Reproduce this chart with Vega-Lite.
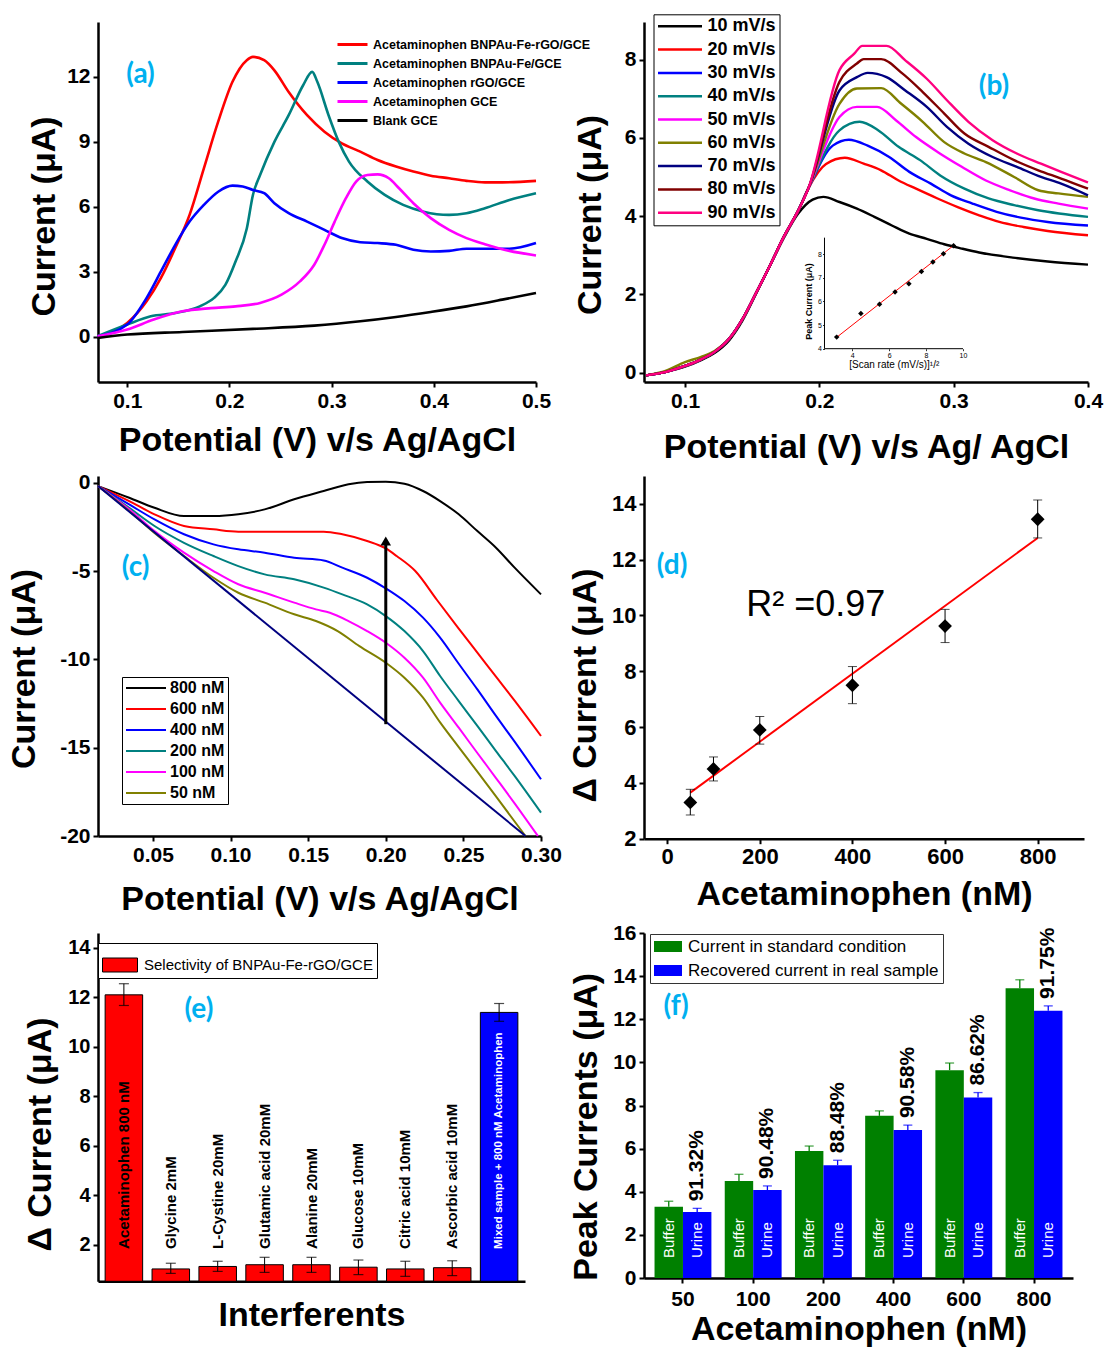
{
"$schema":"https://vega.github.io/schema/vega-lite/v6.json",
"background":"white",
"padding":{"left":7,"top":13,"right":2,"bottom":2},
"columns":2,
"align":"none",
"bounds":"flush",
"spacing":{"row":94,"column":103},
"resolve":{"scale":{"color":"independent","fill":"independent"},"legend":{"color":"independent","fill":"independent"}},
"config":{
 "font":"Liberation Sans",
 "view":{"stroke":null},
 "axis":{"labelFont":"Liberation Sans","labelFontWeight":"bold","labelFontSize":21,"labelColor":"#000","titleFont":"Liberation Sans","titleFontWeight":"bold","titleFontSize":34,"titleColor":"#000","domainColor":"#000","domainWidth":2.5,"tickColor":"#000","tickWidth":2,"tickSize":5,"grid":false,"labelFlush":false,"labelOverlap":false,"labelPadding":3},
 "legend":{"labelFont":"Liberation Sans","labelColor":"#000","titleFont":"Liberation Sans"},
 "text":{"font":"Liberation Sans"}
},
"datasets":{
 "a":[
  {"s":"Acetaminophen BNPAu-Fe-rGO/GCE","x":0.071,"y":0.03},{"s":"Acetaminophen BNPAu-Fe-rGO/GCE","x":0.1,"y":0.64},{"s":"Acetaminophen BNPAu-Fe-rGO/GCE","x":0.119,"y":1.64},{"s":"Acetaminophen BNPAu-Fe-rGO/GCE","x":0.133,"y":2.72},{"s":"Acetaminophen BNPAu-Fe-rGO/GCE","x":0.147,"y":4.1},{"s":"Acetaminophen BNPAu-Fe-rGO/GCE","x":0.161,"y":5.63},{"s":"Acetaminophen BNPAu-Fe-rGO/GCE","x":0.175,"y":7.78},{"s":"Acetaminophen BNPAu-Fe-rGO/GCE","x":0.189,"y":9.93},{"s":"Acetaminophen BNPAu-Fe-rGO/GCE","x":0.203,"y":11.77},{"s":"Acetaminophen BNPAu-Fe-rGO/GCE","x":0.217,"y":12.77},{"s":"Acetaminophen BNPAu-Fe-rGO/GCE","x":0.223,"y":12.92},{"s":"Acetaminophen BNPAu-Fe-rGO/GCE","x":0.234,"y":12.77},{"s":"Acetaminophen BNPAu-Fe-rGO/GCE","x":0.244,"y":12.3},{"s":"Acetaminophen BNPAu-Fe-rGO/GCE","x":0.258,"y":11.3},{"s":"Acetaminophen BNPAu-Fe-rGO/GCE","x":0.276,"y":10.23},{"s":"Acetaminophen BNPAu-Fe-rGO/GCE","x":0.293,"y":9.47},{"s":"Acetaminophen BNPAu-Fe-rGO/GCE","x":0.31,"y":8.93},{"s":"Acetaminophen BNPAu-Fe-rGO/GCE","x":0.328,"y":8.55},{"s":"Acetaminophen BNPAu-Fe-rGO/GCE","x":0.345,"y":8.16},{"s":"Acetaminophen BNPAu-Fe-rGO/GCE","x":0.363,"y":7.86},{"s":"Acetaminophen BNPAu-Fe-rGO/GCE","x":0.38,"y":7.63},{"s":"Acetaminophen BNPAu-Fe-rGO/GCE","x":0.397,"y":7.44},{"s":"Acetaminophen BNPAu-Fe-rGO/GCE","x":0.415,"y":7.32},{"s":"Acetaminophen BNPAu-Fe-rGO/GCE","x":0.432,"y":7.2},{"s":"Acetaminophen BNPAu-Fe-rGO/GCE","x":0.45,"y":7.13},{"s":"Acetaminophen BNPAu-Fe-rGO/GCE","x":0.467,"y":7.13},{"s":"Acetaminophen BNPAu-Fe-rGO/GCE","x":0.5,"y":7.2},
  {"s":"Acetaminophen BNPAu-Fe/GCE","x":0.071,"y":0.03},{"s":"Acetaminophen BNPAu-Fe/GCE","x":0.1,"y":0.57},{"s":"Acetaminophen BNPAu-Fe/GCE","x":0.123,"y":0.95},{"s":"Acetaminophen BNPAu-Fe/GCE","x":0.147,"y":1.1},{"s":"Acetaminophen BNPAu-Fe/GCE","x":0.171,"y":1.41},{"s":"Acetaminophen BNPAu-Fe/GCE","x":0.185,"y":1.8},{"s":"Acetaminophen BNPAu-Fe/GCE","x":0.196,"y":2.4},{"s":"Acetaminophen BNPAu-Fe/GCE","x":0.206,"y":3.48},{"s":"Acetaminophen BNPAu-Fe/GCE","x":0.217,"y":5.0},{"s":"Acetaminophen BNPAu-Fe/GCE","x":0.223,"y":6.55},{"s":"Acetaminophen BNPAu-Fe/GCE","x":0.23,"y":7.47},{"s":"Acetaminophen BNPAu-Fe/GCE","x":0.244,"y":9.0},{"s":"Acetaminophen BNPAu-Fe/GCE","x":0.258,"y":10.23},{"s":"Acetaminophen BNPAu-Fe/GCE","x":0.272,"y":11.6},{"s":"Acetaminophen BNPAu-Fe/GCE","x":0.281,"y":12.23},{"s":"Acetaminophen BNPAu-Fe/GCE","x":0.286,"y":11.77},{"s":"Acetaminophen BNPAu-Fe/GCE","x":0.297,"y":10.23},{"s":"Acetaminophen BNPAu-Fe/GCE","x":0.307,"y":9.0},{"s":"Acetaminophen BNPAu-Fe/GCE","x":0.317,"y":8.09},{"s":"Acetaminophen BNPAu-Fe/GCE","x":0.335,"y":7.17},{"s":"Acetaminophen BNPAu-Fe/GCE","x":0.352,"y":6.55},{"s":"Acetaminophen BNPAu-Fe/GCE","x":0.37,"y":6.09},{"s":"Acetaminophen BNPAu-Fe/GCE","x":0.39,"y":5.78},{"s":"Acetaminophen BNPAu-Fe/GCE","x":0.415,"y":5.63},{"s":"Acetaminophen BNPAu-Fe/GCE","x":0.432,"y":5.71},{"s":"Acetaminophen BNPAu-Fe/GCE","x":0.45,"y":5.94},{"s":"Acetaminophen BNPAu-Fe/GCE","x":0.474,"y":6.32},{"s":"Acetaminophen BNPAu-Fe/GCE","x":0.5,"y":6.63},
  {"s":"Acetaminophen rGO/GCE","x":0.071,"y":0.03},{"s":"Acetaminophen rGO/GCE","x":0.1,"y":0.57},{"s":"Acetaminophen rGO/GCE","x":0.119,"y":1.8},{"s":"Acetaminophen rGO/GCE","x":0.133,"y":3.02},{"s":"Acetaminophen rGO/GCE","x":0.147,"y":4.25},{"s":"Acetaminophen rGO/GCE","x":0.161,"y":5.32},{"s":"Acetaminophen rGO/GCE","x":0.175,"y":6.09},{"s":"Acetaminophen rGO/GCE","x":0.189,"y":6.7},{"s":"Acetaminophen rGO/GCE","x":0.203,"y":6.98},{"s":"Acetaminophen rGO/GCE","x":0.213,"y":6.94},{"s":"Acetaminophen rGO/GCE","x":0.223,"y":6.78},{"s":"Acetaminophen rGO/GCE","x":0.234,"y":6.63},{"s":"Acetaminophen rGO/GCE","x":0.244,"y":6.17},{"s":"Acetaminophen rGO/GCE","x":0.258,"y":5.71},{"s":"Acetaminophen rGO/GCE","x":0.276,"y":5.32},{"s":"Acetaminophen rGO/GCE","x":0.293,"y":4.94},{"s":"Acetaminophen rGO/GCE","x":0.31,"y":4.56},{"s":"Acetaminophen rGO/GCE","x":0.328,"y":4.37},{"s":"Acetaminophen rGO/GCE","x":0.345,"y":4.33},{"s":"Acetaminophen rGO/GCE","x":0.363,"y":4.25},{"s":"Acetaminophen rGO/GCE","x":0.38,"y":4.02},{"s":"Acetaminophen rGO/GCE","x":0.397,"y":3.94},{"s":"Acetaminophen rGO/GCE","x":0.415,"y":3.97},{"s":"Acetaminophen rGO/GCE","x":0.432,"y":4.07},{"s":"Acetaminophen rGO/GCE","x":0.45,"y":4.07},{"s":"Acetaminophen rGO/GCE","x":0.474,"y":4.07},{"s":"Acetaminophen rGO/GCE","x":0.5,"y":4.33},
  {"s":"Acetaminophen GCE","x":0.071,"y":0.03},{"s":"Acetaminophen GCE","x":0.1,"y":0.34},{"s":"Acetaminophen GCE","x":0.126,"y":0.8},{"s":"Acetaminophen GCE","x":0.154,"y":1.18},{"s":"Acetaminophen GCE","x":0.182,"y":1.33},{"s":"Acetaminophen GCE","x":0.206,"y":1.41},{"s":"Acetaminophen GCE","x":0.23,"y":1.57},{"s":"Acetaminophen GCE","x":0.251,"y":1.95},{"s":"Acetaminophen GCE","x":0.269,"y":2.56},{"s":"Acetaminophen GCE","x":0.283,"y":3.33},{"s":"Acetaminophen GCE","x":0.293,"y":4.25},{"s":"Acetaminophen GCE","x":0.303,"y":5.32},{"s":"Acetaminophen GCE","x":0.314,"y":6.4},{"s":"Acetaminophen GCE","x":0.324,"y":7.17},{"s":"Acetaminophen GCE","x":0.335,"y":7.47},{"s":"Acetaminophen GCE","x":0.345,"y":7.5},{"s":"Acetaminophen GCE","x":0.356,"y":7.32},{"s":"Acetaminophen GCE","x":0.366,"y":6.86},{"s":"Acetaminophen GCE","x":0.38,"y":6.17},{"s":"Acetaminophen GCE","x":0.397,"y":5.48},{"s":"Acetaminophen GCE","x":0.415,"y":4.94},{"s":"Acetaminophen GCE","x":0.432,"y":4.56},{"s":"Acetaminophen GCE","x":0.45,"y":4.28},{"s":"Acetaminophen GCE","x":0.474,"y":3.97},{"s":"Acetaminophen GCE","x":0.5,"y":3.76},
  {"s":"Blank GCE","x":0.071,"y":-0.05},{"s":"Blank GCE","x":0.1,"y":0.11},{"s":"Blank GCE","x":0.154,"y":0.23},{"s":"Blank GCE","x":0.223,"y":0.37},{"s":"Blank GCE","x":0.283,"y":0.52},{"s":"Blank GCE","x":0.328,"y":0.72},{"s":"Blank GCE","x":0.363,"y":0.92},{"s":"Blank GCE","x":0.397,"y":1.15},{"s":"Blank GCE","x":0.432,"y":1.41},{"s":"Blank GCE","x":0.467,"y":1.72},{"s":"Blank GCE","x":0.5,"y":2.03}
 ],
 "b":[
  {"s":"10 mV/s","x":0.071,"y":-0.07},{"s":"10 mV/s","x":0.086,"y":0.02},{"s":"10 mV/s","x":0.1,"y":0.15},{"s":"10 mV/s","x":0.112,"y":0.32},{"s":"10 mV/s","x":0.122,"y":0.5},{"s":"10 mV/s","x":0.133,"y":0.83},{"s":"10 mV/s","x":0.143,"y":1.34},{"s":"10 mV/s","x":0.153,"y":2.02},{"s":"10 mV/s","x":0.164,"y":2.79},{"s":"10 mV/s","x":0.174,"y":3.47},{"s":"10 mV/s","x":0.184,"y":4.05},{"s":"10 mV/s","x":0.195,"y":4.42},{"s":"10 mV/s","x":0.203,"y":4.49},{"s":"10 mV/s","x":0.215,"y":4.36},{"s":"10 mV/s","x":0.228,"y":4.19},{"s":"10 mV/s","x":0.241,"y":3.98},{"s":"10 mV/s","x":0.254,"y":3.76},{"s":"10 mV/s","x":0.267,"y":3.55},{"s":"10 mV/s","x":0.28,"y":3.42},{"s":"10 mV/s","x":0.293,"y":3.28},{"s":"10 mV/s","x":0.306,"y":3.17},{"s":"10 mV/s","x":0.319,"y":3.07},{"s":"10 mV/s","x":0.344,"y":2.94},{"s":"10 mV/s","x":0.37,"y":2.84},{"s":"10 mV/s","x":0.4,"y":2.76},
  {"s":"20 mV/s","x":0.071,"y":-0.07},{"s":"20 mV/s","x":0.086,"y":0.02},{"s":"20 mV/s","x":0.1,"y":0.17},{"s":"20 mV/s","x":0.112,"y":0.34},{"s":"20 mV/s","x":0.122,"y":0.53},{"s":"20 mV/s","x":0.133,"y":0.87},{"s":"20 mV/s","x":0.143,"y":1.38},{"s":"20 mV/s","x":0.153,"y":2.04},{"s":"20 mV/s","x":0.164,"y":2.79},{"s":"20 mV/s","x":0.174,"y":3.5},{"s":"20 mV/s","x":0.184,"y":4.12},{"s":"20 mV/s","x":0.192,"y":4.72},{"s":"20 mV/s","x":0.205,"y":5.33},{"s":"20 mV/s","x":0.219,"y":5.49},{"s":"20 mV/s","x":0.233,"y":5.34},{"s":"20 mV/s","x":0.246,"y":5.17},{"s":"20 mV/s","x":0.259,"y":4.91},{"s":"20 mV/s","x":0.272,"y":4.7},{"s":"20 mV/s","x":0.288,"y":4.45},{"s":"20 mV/s","x":0.303,"y":4.23},{"s":"20 mV/s","x":0.319,"y":4.02},{"s":"20 mV/s","x":0.334,"y":3.85},{"s":"20 mV/s","x":0.352,"y":3.72},{"s":"20 mV/s","x":0.37,"y":3.62},{"s":"20 mV/s","x":0.4,"y":3.51},
  {"s":"30 mV/s","x":0.071,"y":-0.07},{"s":"30 mV/s","x":0.086,"y":0.02},{"s":"30 mV/s","x":0.1,"y":0.17},{"s":"30 mV/s","x":0.112,"y":0.34},{"s":"30 mV/s","x":0.122,"y":0.53},{"s":"30 mV/s","x":0.133,"y":0.87},{"s":"30 mV/s","x":0.143,"y":1.38},{"s":"30 mV/s","x":0.153,"y":2.04},{"s":"30 mV/s","x":0.164,"y":2.79},{"s":"30 mV/s","x":0.174,"y":3.5},{"s":"30 mV/s","x":0.184,"y":4.12},{"s":"30 mV/s","x":0.192,"y":4.72},{"s":"30 mV/s","x":0.21,"y":5.8},{"s":"30 mV/s","x":0.222,"y":5.95},{"s":"30 mV/s","x":0.236,"y":5.8},{"s":"30 mV/s","x":0.252,"y":5.51},{"s":"30 mV/s","x":0.267,"y":5.13},{"s":"30 mV/s","x":0.283,"y":4.83},{"s":"30 mV/s","x":0.298,"y":4.53},{"s":"30 mV/s","x":0.314,"y":4.32},{"s":"30 mV/s","x":0.332,"y":4.11},{"s":"30 mV/s","x":0.35,"y":3.96},{"s":"30 mV/s","x":0.37,"y":3.85},{"s":"30 mV/s","x":0.4,"y":3.76},
  {"s":"40 mV/s","x":0.071,"y":-0.07},{"s":"40 mV/s","x":0.086,"y":0.02},{"s":"40 mV/s","x":0.1,"y":0.17},{"s":"40 mV/s","x":0.112,"y":0.34},{"s":"40 mV/s","x":0.122,"y":0.53},{"s":"40 mV/s","x":0.133,"y":0.87},{"s":"40 mV/s","x":0.143,"y":1.38},{"s":"40 mV/s","x":0.153,"y":2.04},{"s":"40 mV/s","x":0.164,"y":2.79},{"s":"40 mV/s","x":0.174,"y":3.5},{"s":"40 mV/s","x":0.184,"y":4.12},{"s":"40 mV/s","x":0.192,"y":4.72},{"s":"40 mV/s","x":0.215,"y":6.19},{"s":"40 mV/s","x":0.23,"y":6.41},{"s":"40 mV/s","x":0.244,"y":6.19},{"s":"40 mV/s","x":0.259,"y":5.77},{"s":"40 mV/s","x":0.275,"y":5.43},{"s":"40 mV/s","x":0.29,"y":5.04},{"s":"40 mV/s","x":0.308,"y":4.7},{"s":"40 mV/s","x":0.326,"y":4.45},{"s":"40 mV/s","x":0.345,"y":4.28},{"s":"40 mV/s","x":0.363,"y":4.15},{"s":"40 mV/s","x":0.4,"y":3.98},
  {"s":"50 mV/s","x":0.071,"y":-0.07},{"s":"50 mV/s","x":0.086,"y":0.02},{"s":"50 mV/s","x":0.1,"y":0.17},{"s":"50 mV/s","x":0.112,"y":0.34},{"s":"50 mV/s","x":0.122,"y":0.53},{"s":"50 mV/s","x":0.133,"y":0.87},{"s":"50 mV/s","x":0.143,"y":1.38},{"s":"50 mV/s","x":0.153,"y":2.04},{"s":"50 mV/s","x":0.164,"y":2.79},{"s":"50 mV/s","x":0.174,"y":3.5},{"s":"50 mV/s","x":0.184,"y":4.12},{"s":"50 mV/s","x":0.192,"y":4.72},{"s":"50 mV/s","x":0.215,"y":6.53},{"s":"50 mV/s","x":0.228,"y":6.79},{"s":"50 mV/s","x":0.243,"y":6.79},{"s":"50 mV/s","x":0.257,"y":6.45},{"s":"50 mV/s","x":0.272,"y":6.02},{"s":"50 mV/s","x":0.288,"y":5.64},{"s":"50 mV/s","x":0.306,"y":5.26},{"s":"50 mV/s","x":0.324,"y":4.91},{"s":"50 mV/s","x":0.342,"y":4.66},{"s":"50 mV/s","x":0.36,"y":4.45},{"s":"50 mV/s","x":0.378,"y":4.32},{"s":"50 mV/s","x":0.4,"y":4.19},
  {"s":"60 mV/s","x":0.071,"y":-0.07},{"s":"60 mV/s","x":0.086,"y":0.05},{"s":"60 mV/s","x":0.1,"y":0.27},{"s":"60 mV/s","x":0.112,"y":0.4},{"s":"60 mV/s","x":0.122,"y":0.55},{"s":"60 mV/s","x":0.133,"y":0.87},{"s":"60 mV/s","x":0.143,"y":1.38},{"s":"60 mV/s","x":0.153,"y":2.04},{"s":"60 mV/s","x":0.164,"y":2.79},{"s":"60 mV/s","x":0.174,"y":3.5},{"s":"60 mV/s","x":0.184,"y":4.12},{"s":"60 mV/s","x":0.192,"y":4.72},{"s":"60 mV/s","x":0.215,"y":6.87},{"s":"60 mV/s","x":0.228,"y":7.26},{"s":"60 mV/s","x":0.246,"y":7.27},{"s":"60 mV/s","x":0.261,"y":6.87},{"s":"60 mV/s","x":0.277,"y":6.41},{"s":"60 mV/s","x":0.293,"y":5.89},{"s":"60 mV/s","x":0.308,"y":5.6},{"s":"60 mV/s","x":0.324,"y":5.38},{"s":"60 mV/s","x":0.345,"y":5.0},{"s":"60 mV/s","x":0.363,"y":4.66},{"s":"60 mV/s","x":0.378,"y":4.58},{"s":"60 mV/s","x":0.4,"y":4.49},
  {"s":"70 mV/s","x":0.071,"y":-0.07},{"s":"70 mV/s","x":0.086,"y":0.02},{"s":"70 mV/s","x":0.1,"y":0.17},{"s":"70 mV/s","x":0.112,"y":0.34},{"s":"70 mV/s","x":0.122,"y":0.53},{"s":"70 mV/s","x":0.133,"y":0.87},{"s":"70 mV/s","x":0.143,"y":1.38},{"s":"70 mV/s","x":0.153,"y":2.04},{"s":"70 mV/s","x":0.164,"y":2.79},{"s":"70 mV/s","x":0.174,"y":3.5},{"s":"70 mV/s","x":0.184,"y":4.12},{"s":"70 mV/s","x":0.192,"y":4.72},{"s":"70 mV/s","x":0.215,"y":7.21},{"s":"70 mV/s","x":0.228,"y":7.55},{"s":"70 mV/s","x":0.236,"y":7.66},{"s":"70 mV/s","x":0.25,"y":7.55},{"s":"70 mV/s","x":0.264,"y":7.21},{"s":"70 mV/s","x":0.28,"y":6.79},{"s":"70 mV/s","x":0.295,"y":6.28},{"s":"70 mV/s","x":0.311,"y":5.85},{"s":"70 mV/s","x":0.329,"y":5.51},{"s":"70 mV/s","x":0.347,"y":5.26},{"s":"70 mV/s","x":0.365,"y":5.0},{"s":"70 mV/s","x":0.38,"y":4.83},{"s":"70 mV/s","x":0.4,"y":4.53},
  {"s":"80 mV/s","x":0.071,"y":-0.07},{"s":"80 mV/s","x":0.086,"y":0.02},{"s":"80 mV/s","x":0.1,"y":0.17},{"s":"80 mV/s","x":0.112,"y":0.34},{"s":"80 mV/s","x":0.122,"y":0.53},{"s":"80 mV/s","x":0.133,"y":0.87},{"s":"80 mV/s","x":0.143,"y":1.38},{"s":"80 mV/s","x":0.153,"y":2.04},{"s":"80 mV/s","x":0.164,"y":2.79},{"s":"80 mV/s","x":0.174,"y":3.5},{"s":"80 mV/s","x":0.184,"y":4.12},{"s":"80 mV/s","x":0.192,"y":4.72},{"s":"80 mV/s","x":0.215,"y":7.43},{"s":"80 mV/s","x":0.228,"y":7.9},{"s":"80 mV/s","x":0.233,"y":8.01},{"s":"80 mV/s","x":0.246,"y":8.01},{"s":"80 mV/s","x":0.262,"y":7.64},{"s":"80 mV/s","x":0.277,"y":7.17},{"s":"80 mV/s","x":0.293,"y":6.62},{"s":"80 mV/s","x":0.308,"y":6.11},{"s":"80 mV/s","x":0.326,"y":5.77},{"s":"80 mV/s","x":0.345,"y":5.43},{"s":"80 mV/s","x":0.363,"y":5.17},{"s":"80 mV/s","x":0.38,"y":4.96},{"s":"80 mV/s","x":0.4,"y":4.7},
  {"s":"90 mV/s","x":0.071,"y":-0.07},{"s":"90 mV/s","x":0.086,"y":0.02},{"s":"90 mV/s","x":0.1,"y":0.17},{"s":"90 mV/s","x":0.112,"y":0.34},{"s":"90 mV/s","x":0.122,"y":0.53},{"s":"90 mV/s","x":0.133,"y":0.87},{"s":"90 mV/s","x":0.143,"y":1.38},{"s":"90 mV/s","x":0.153,"y":2.04},{"s":"90 mV/s","x":0.164,"y":2.79},{"s":"90 mV/s","x":0.174,"y":3.5},{"s":"90 mV/s","x":0.184,"y":4.12},{"s":"90 mV/s","x":0.192,"y":4.72},{"s":"90 mV/s","x":0.215,"y":7.73},{"s":"90 mV/s","x":0.226,"y":8.15},{"s":"90 mV/s","x":0.232,"y":8.35},{"s":"90 mV/s","x":0.25,"y":8.35},{"s":"90 mV/s","x":0.264,"y":7.98},{"s":"90 mV/s","x":0.28,"y":7.51},{"s":"90 mV/s","x":0.295,"y":6.96},{"s":"90 mV/s","x":0.311,"y":6.41},{"s":"90 mV/s","x":0.329,"y":5.94},{"s":"90 mV/s","x":0.347,"y":5.6},{"s":"90 mV/s","x":0.365,"y":5.34},{"s":"90 mV/s","x":0.38,"y":5.13},{"s":"90 mV/s","x":0.4,"y":4.86}
 ],
 "inset":[{"ix":3.16,"iy":4.49},{"ix":4.47,"iy":5.49},{"ix":5.48,"iy":5.88},{"ix":6.32,"iy":6.4},{"ix":7.07,"iy":6.75},{"ix":7.75,"iy":7.27},{"ix":8.37,"iy":7.67},{"ix":8.94,"iy":8.02},{"ix":9.49,"iy":8.36}],
 "inAx":[{"ix":2.5,"iy":4,"ix2":10,"iy2":4},{"ix":2.5,"iy":4,"ix2":2.5,"iy2":8.7}],
 "c":[
  {"s":"800 nM","x":0.0146,"y":-0.19},{"s":"800 nM","x":0.0347,"y":-0.85},{"s":"800 nM","x":0.051,"y":-1.42},{"s":"800 nM","x":0.07,"y":-1.89},{"s":"800 nM","x":0.089,"y":-1.89},{"s":"800 nM","x":0.105,"y":-1.79},{"s":"800 nM","x":0.122,"y":-1.51},{"s":"800 nM","x":0.141,"y":-0.94},{"s":"800 nM","x":0.16,"y":-0.47},{"s":"800 nM","x":0.176,"y":-0.09},{"s":"800 nM","x":0.188,"y":0.04},{"s":"800 nM","x":0.2,"y":0.06},{"s":"800 nM","x":0.212,"y":-0.06},{"s":"800 nM","x":0.224,"y":-0.47},{"s":"800 nM","x":0.235,"y":-1.04},{"s":"800 nM","x":0.247,"y":-1.79},{"s":"800 nM","x":0.259,"y":-2.74},{"s":"800 nM","x":0.271,"y":-3.68},{"s":"800 nM","x":0.283,"y":-4.81},{"s":"800 nM","x":0.3,"y":-6.32},
  {"s":"600 nM","x":0.0146,"y":-0.19},{"s":"600 nM","x":0.0347,"y":-1.04},{"s":"600 nM","x":0.051,"y":-1.79},{"s":"600 nM","x":0.07,"y":-2.45},{"s":"600 nM","x":0.089,"y":-2.64},{"s":"600 nM","x":0.105,"y":-2.77},{"s":"600 nM","x":0.122,"y":-2.77},{"s":"600 nM","x":0.141,"y":-2.77},{"s":"600 nM","x":0.16,"y":-2.77},{"s":"600 nM","x":0.172,"y":-2.92},{"s":"600 nM","x":0.188,"y":-3.3},{"s":"600 nM","x":0.2,"y":-3.72},{"s":"600 nM","x":0.207,"y":-4.15},{"s":"600 nM","x":0.219,"y":-5.0},{"s":"600 nM","x":0.233,"y":-6.64},{"s":"600 nM","x":0.247,"y":-8.26},{"s":"600 nM","x":0.259,"y":-9.62},{"s":"600 nM","x":0.271,"y":-10.98},{"s":"600 nM","x":0.283,"y":-12.34},{"s":"600 nM","x":0.3,"y":-14.34},
  {"s":"400 nM","x":0.0146,"y":-0.19},{"s":"400 nM","x":0.0347,"y":-1.23},{"s":"400 nM","x":0.051,"y":-2.08},{"s":"400 nM","x":0.07,"y":-2.92},{"s":"400 nM","x":0.089,"y":-3.49},{"s":"400 nM","x":0.105,"y":-3.77},{"s":"400 nM","x":0.122,"y":-3.96},{"s":"400 nM","x":0.141,"y":-4.25},{"s":"400 nM","x":0.16,"y":-4.4},{"s":"400 nM","x":0.172,"y":-4.81},{"s":"400 nM","x":0.188,"y":-5.38},{"s":"400 nM","x":0.2,"y":-5.98},{"s":"400 nM","x":0.212,"y":-6.7},{"s":"400 nM","x":0.224,"y":-7.64},{"s":"400 nM","x":0.235,"y":-8.77},{"s":"400 nM","x":0.247,"y":-10.25},{"s":"400 nM","x":0.259,"y":-11.7},{"s":"400 nM","x":0.271,"y":-13.2},{"s":"400 nM","x":0.283,"y":-14.66},{"s":"400 nM","x":0.3,"y":-16.79},
  {"s":"200 nM","x":0.0146,"y":-0.19},{"s":"200 nM","x":0.0347,"y":-1.42},{"s":"200 nM","x":0.051,"y":-2.45},{"s":"200 nM","x":0.07,"y":-3.4},{"s":"200 nM","x":0.089,"y":-4.15},{"s":"200 nM","x":0.105,"y":-4.72},{"s":"200 nM","x":0.122,"y":-5.19},{"s":"200 nM","x":0.141,"y":-5.47},{"s":"200 nM","x":0.16,"y":-5.94},{"s":"200 nM","x":0.172,"y":-6.32},{"s":"200 nM","x":0.188,"y":-6.89},{"s":"200 nM","x":0.2,"y":-7.55},{"s":"200 nM","x":0.212,"y":-8.4},{"s":"200 nM","x":0.224,"y":-9.53},{"s":"200 nM","x":0.235,"y":-10.94},{"s":"200 nM","x":0.247,"y":-12.36},{"s":"200 nM","x":0.259,"y":-13.77},{"s":"200 nM","x":0.271,"y":-15.19},{"s":"200 nM","x":0.283,"y":-16.6},{"s":"200 nM","x":0.3,"y":-18.68},
  {"s":"100 nM","x":0.0146,"y":-0.19},{"s":"100 nM","x":0.0347,"y":-1.51},{"s":"100 nM","x":0.051,"y":-2.74},{"s":"100 nM","x":0.07,"y":-3.96},{"s":"100 nM","x":0.089,"y":-5.0},{"s":"100 nM","x":0.105,"y":-5.75},{"s":"100 nM","x":0.122,"y":-6.23},{"s":"100 nM","x":0.141,"y":-6.79},{"s":"100 nM","x":0.155,"y":-7.17},{"s":"100 nM","x":0.164,"y":-7.36},{"s":"100 nM","x":0.176,"y":-7.83},{"s":"100 nM","x":0.188,"y":-8.4},{"s":"100 nM","x":0.2,"y":-9.06},{"s":"100 nM","x":0.212,"y":-9.91},{"s":"100 nM","x":0.224,"y":-11.04},{"s":"100 nM","x":0.235,"y":-12.45},{"s":"100 nM","x":0.247,"y":-13.87},{"s":"100 nM","x":0.259,"y":-15.3},{"s":"100 nM","x":0.271,"y":-16.72},{"s":"100 nM","x":0.283,"y":-18.15},{"s":"100 nM","x":0.298,"y":-20.0},
  {"s":"50 nM","x":0.0146,"y":-0.19},{"s":"50 nM","x":0.0347,"y":-1.6},{"s":"50 nM","x":0.051,"y":-2.85},{"s":"50 nM","x":0.07,"y":-4.15},{"s":"50 nM","x":0.089,"y":-5.38},{"s":"50 nM","x":0.105,"y":-6.23},{"s":"50 nM","x":0.122,"y":-6.79},{"s":"50 nM","x":0.141,"y":-7.45},{"s":"50 nM","x":0.155,"y":-7.83},{"s":"50 nM","x":0.169,"y":-8.4},{"s":"50 nM","x":0.183,"y":-9.25},{"s":"50 nM","x":0.2,"y":-10.19},{"s":"50 nM","x":0.212,"y":-11.04},{"s":"50 nM","x":0.224,"y":-12.17},{"s":"50 nM","x":0.235,"y":-13.57},{"s":"50 nM","x":0.247,"y":-14.97},{"s":"50 nM","x":0.259,"y":-16.36},{"s":"50 nM","x":0.271,"y":-17.76},{"s":"50 nM","x":0.29,"y":-20.0},
  {"s":"base","x":0.0146,"y":-0.19},{"s":"base","x":0.29,"y":-20.0}
 ],
 "d":[{"conc":50,"v":3.3,"lo":2.85,"hi":3.77},{"conc":100,"v":4.5,"lo":4.07,"hi":4.93},{"conc":200,"v":5.9,"lo":5.39,"hi":6.38},{"conc":400,"v":7.5,"lo":6.84,"hi":8.17},{"conc":600,"v":9.62,"lo":9.03,"hi":10.22},{"conc":800,"v":13.45,"lo":12.78,"hi":14.14}],
 "e":[
  {"name":"Acetaminophen 800 nM","v":12.1,"lo":11.67,"hi":12.55,"grp":"Selectivity of BNPAu-Fe-rGO/GCE"},
  {"name":"Glycine 2mM","v":1.02,"lo":0.84,"hi":1.25,"grp":"Selectivity of BNPAu-Fe-rGO/GCE"},
  {"name":"L-Cystine 20mM","v":1.12,"lo":0.92,"hi":1.33,"grp":"Selectivity of BNPAu-Fe-rGO/GCE"},
  {"name":"Glutamic acid 20mM","v":1.19,"lo":0.88,"hi":1.49,"grp":"Selectivity of BNPAu-Fe-rGO/GCE"},
  {"name":"Alanine 20mM","v":1.19,"lo":0.88,"hi":1.49,"grp":"Selectivity of BNPAu-Fe-rGO/GCE"},
  {"name":"Glucose 10mM","v":1.09,"lo":0.79,"hi":1.38,"grp":"Selectivity of BNPAu-Fe-rGO/GCE"},
  {"name":"Citric acid 10mM","v":1.02,"lo":0.72,"hi":1.33,"grp":"Selectivity of BNPAu-Fe-rGO/GCE"},
  {"name":"Ascorbic acid 10mM","v":1.07,"lo":0.75,"hi":1.35,"grp":"Selectivity of BNPAu-Fe-rGO/GCE"},
  {"name":"Mixed sample + 800 nM Acetaminophen","v":11.39,"lo":11.03,"hi":11.75,"grp":"Mixed"}
 ],
 "f":[
  {"conc":"50","sample":"Buffer","series":"Current in standard condition","v":3.3,"hi":3.56},
  {"conc":"50","sample":"Urine","series":"Recovered current in real sample","v":3.06,"hi":3.23,"pct":"91.32%"},
  {"conc":"100","sample":"Buffer","series":"Current in standard condition","v":4.5,"hi":4.81},
  {"conc":"100","sample":"Urine","series":"Recovered current in real sample","v":4.08,"hi":4.27,"pct":"90.48%"},
  {"conc":"200","sample":"Buffer","series":"Current in standard condition","v":5.89,"hi":6.12},
  {"conc":"200","sample":"Urine","series":"Recovered current in real sample","v":5.23,"hi":5.46,"pct":"88.48%"},
  {"conc":"400","sample":"Buffer","series":"Current in standard condition","v":7.52,"hi":7.75},
  {"conc":"400","sample":"Urine","series":"Recovered current in real sample","v":6.86,"hi":7.09,"pct":"90.58%"},
  {"conc":"600","sample":"Buffer","series":"Current in standard condition","v":9.64,"hi":9.97},
  {"conc":"600","sample":"Urine","series":"Recovered current in real sample","v":8.37,"hi":8.6,"pct":"86.62%"},
  {"conc":"800","sample":"Buffer","series":"Current in standard condition","v":13.44,"hi":13.83},
  {"conc":"800","sample":"Urine","series":"Recovered current in real sample","v":12.39,"hi":12.62,"pct":"91.75%"}
 ]
},
"concat":[
 {
  "width":438,"height":360,
  "layer":[
   {"data":{"name":"a"},
    "mark":{"type":"line","strokeWidth":2.6,"interpolate":"monotone"},
    "encoding":{
     "x":{"field":"x","type":"quantitative","scale":{"domain":[0.0714,0.5],"nice":false,"zero":false},"axis":{"values":[0.1,0.2,0.3,0.4,0.5],"format":".1f","title":"Potential (V) v/s Ag/AgCl","titleY":68,"titleBaseline":"alphabetic"}},
     "y":{"field":"y","type":"quantitative","scale":{"domain":[-2.08,14.53],"nice":false,"zero":false},"axis":{"values":[0,3,6,9,12],"title":"Current (μA)","titleX":-43.6,"titleY":194,"titleAngle":-90,"titleAlign":"center","titleBaseline":"alphabetic"}},
     "color":{"field":"s","type":"nominal","scale":{"domain":["Acetaminophen BNPAu-Fe-rGO/GCE","Acetaminophen BNPAu-Fe/GCE","Acetaminophen rGO/GCE","Acetaminophen GCE","Blank GCE"],"range":["#FF0000","#008080","#0000FF","#FF00FF","#000000"]},
      "legend":{"orient":"none","legendX":238,"legendY":16,"title":null,"symbolType":"stroke","symbolSize":900,"symbolStrokeWidth":3,"labelFontSize":12.5,"labelFontWeight":"bold","clipHeight":13,"rowPadding":6,"labelOffset":4,"labelLimit":400,"padding":0}}
    }},
   {"data":{"values":[{"x":0.113,"y":12.08,"t":"(a)"}]},
    "mark":{"type":"text","font":"Lato","fontWeight":"bold","fontSize":28,"color":"#00B0F0"},
    "encoding":{"x":{"field":"x","type":"quantitative"},"y":{"field":"y","type":"quantitative"},"text":{"field":"t"}}}
  ]
 },
 {
  "width":444,"height":360,
  "layer":[
   {"layer":[
    {"data":{"name":"b"},
     "mark":{"type":"line","strokeWidth":2.4,"interpolate":"monotone"},
     "encoding":{
      "x":{"field":"x","type":"quantitative","scale":{"domain":[0.0695,0.4],"nice":false,"zero":false},"axis":{"orient":"bottom","values":[0.1,0.2,0.3,0.4],"format":".1f","title":"Potential (V) v/s Ag/ AgCl","titleY":75,"titleBaseline":"alphabetic"}},
      "y":{"field":"y","type":"quantitative","scale":{"domain":[-0.24,8.96],"nice":false,"zero":false},"axis":{"orient":"left","values":[0,2,4,6,8],"title":"Current (μA)","titleX":-43.5,"titleY":192.5,"titleAngle":-90,"titleAlign":"center","titleBaseline":"alphabetic"}},
      "color":{"field":"s","type":"nominal","scale":{"domain":["10 mV/s","20 mV/s","30 mV/s","40 mV/s","50 mV/s","60 mV/s","70 mV/s","80 mV/s","90 mV/s"],"range":["#000000","#FF0000","#0000FF","#008080","#FF00FF","#808000","#000080","#800000","#FF0080"]},
       "legend":{"orient":"none","legendX":9.5,"legendY":-7.7,"title":null,"symbolType":"stroke","symbolSize":1936,"symbolStrokeWidth":2.5,"labelFontSize":18,"labelFontWeight":"bold","clipHeight":18,"rowPadding":5.3,"labelOffset":4,"padding":3,"strokeColor":"#000","fillColor":"#fff","labelLimit":300}}
     }},
    {"data":{"values":[{"x":0.33,"y":7.3,"t":"(b)"}]},
     "mark":{"type":"text","font":"Lato","fontWeight":"bold","fontSize":28,"color":"#00B0F0"},
     "encoding":{"x":{"field":"x","type":"quantitative"},"y":{"field":"y","type":"quantitative"},"text":{"field":"t"}}}
   ]},
   {"layer":[
    {"data":{"name":"inAx"},
     "mark":{"type":"rule","color":"#000","strokeWidth":1},
     "encoding":{
      "x":{"field":"ix","type":"quantitative","scale":{"domain":[-7.273,16.768],"nice":false,"zero":false},"axis":{"orient":"bottom","offset":-33.3,"values":[4,6,8,10],"domain":false,"tickSize":2,"tickWidth":0.8,"labelFontSize":7,"labelFontWeight":"normal","labelPadding":1,"title":"[Scan rate (mV/s)]¹/²","titleFontSize":10,"titleFontWeight":"normal","titleX":249.75,"titleY":19,"titleBaseline":"alphabetic","titleAlign":"center"}},
      "x2":{"field":"ix2"},
      "y":{"field":"iy","type":"quantitative","scale":{"domain":[2.59,17.83],"nice":false,"zero":false},"axis":{"orient":"left","offset":-180.5,"values":[4,5,6,7,8],"domain":false,"tickSize":2,"tickWidth":0.8,"labelFontSize":7,"labelFontWeight":"normal","labelPadding":1,"title":"Peak Current (μA)","titleFontSize":9,"titleX":-12.8,"titleY":279,"titleAngle":-90,"titleAlign":"center","titleBaseline":"alphabetic"}},
      "y2":{"field":"iy2"}
     }},
    {"data":{"values":[{"ix":3.16,"iy":4.48},{"ix":9.49,"iy":8.37}]},
     "mark":{"type":"line","color":"#FF0000","strokeWidth":1},
     "encoding":{"x":{"field":"ix","type":"quantitative"},"y":{"field":"iy","type":"quantitative"}}},
    {"data":{"name":"inset"},
     "mark":{"type":"point","shape":"diamond","filled":true,"color":"#000","size":30,"opacity":1},
     "encoding":{"x":{"field":"ix","type":"quantitative"},"y":{"field":"iy","type":"quantitative"}}}
   ]}
  ],
  "resolve":{"scale":{"x":"independent","y":"independent"},"axis":{"x":"independent","y":"independent"}}
 },
 {
  "width":443,"height":360,
  "layer":[
   {"data":{"name":"c"},
    "mark":{"type":"line","strokeWidth":2,"interpolate":"monotone"},
    "encoding":{
     "x":{"field":"x","type":"quantitative","scale":{"domain":[0.0146,0.3],"nice":false,"zero":false},"axis":{"values":[0.05,0.1,0.15,0.2,0.25,0.3],"format":".2f","title":"Potential (V) v/s Ag/AgCl","titleY":73,"titleBaseline":"alphabetic"}},
     "y":{"field":"y","type":"quantitative","scale":{"domain":[-20,0.38],"nice":false,"zero":false},"axis":{"values":[0,-5,-10,-15,-20],"labelExpr":"''+datum.value","title":"Current (μA)","titleX":-63.3,"titleY":192.5,"titleAngle":-90,"titleAlign":"center","titleBaseline":"alphabetic"}},
     "color":{"field":"s","type":"nominal","scale":{"domain":["800 nM","600 nM","400 nM","200 nM","100 nM","50 nM","base"],"range":["#000000","#FF0000","#0000FF","#008080","#FF00FF","#808000","#000080"]},
      "legend":{"values":["800 nM","600 nM","400 nM","200 nM","100 nM","50 nM"],"orient":"none","legendX":24,"legendY":201,"title":null,"symbolType":"stroke","symbolSize":1600,"symbolStrokeWidth":2,"labelFontSize":16,"labelFontWeight":"bold","clipHeight":16,"rowPadding":5,"labelOffset":3,"padding":3,"strokeColor":"#000","fillColor":"#fff"}}
    }},
   {"data":{"values":[{"x":0.2,"y":-13.67,"y2":-3.5}]},
    "mark":{"type":"rule","strokeWidth":3,"color":"#000"},
    "encoding":{"x":{"field":"x","type":"quantitative"},"y":{"field":"y","type":"quantitative"},"y2":{"field":"y2"}}},
   {"data":{"values":[{"x":0.2,"y":-3.3}]},
    "mark":{"type":"point","shape":"triangle-up","filled":true,"color":"#000","size":110,"opacity":1},
    "encoding":{"x":{"field":"x","type":"quantitative"},"y":{"field":"y","type":"quantitative"}}},
   {"data":{"values":[{"x":0.0388,"y":-4.81,"t":"(c)"}]},
    "mark":{"type":"text","font":"Lato","fontWeight":"bold","fontSize":28,"color":"#00B0F0"},
    "encoding":{"x":{"field":"x","type":"quantitative"},"y":{"field":"y","type":"quantitative"},"text":{"field":"t"}}}
  ]
 },
 {
  "width":440,"height":362.7,
  "layer":[
   {"data":{"values":[{"fx":50,"fy":3.65},{"fx":800,"fy":12.78}]},
    "mark":{"type":"line","color":"#FF0000","strokeWidth":2},
    "encoding":{
     "x":{"field":"fx","type":"quantitative","scale":{"domain":[-50,900],"nice":false,"zero":false},"axis":{"values":[0,200,400,600,800],"labelFontSize":22,"title":"Acetaminophen (nM)","titleY":65.6,"titleBaseline":"alphabetic"}},
     "y":{"field":"fy","type":"quantitative","scale":{"domain":[2,15],"nice":false,"zero":false},"axis":{"values":[2,4,6,8,10,12,14],"labelFontSize":22,"title":"Δ Current (μA)","titleX":-49,"titleY":209,"titleAngle":-90,"titleAlign":"center","titleBaseline":"alphabetic"}}
    }},
   {"data":{"name":"d"},"mark":{"type":"rule","color":"#000","strokeWidth":1},
    "encoding":{"x":{"field":"conc","type":"quantitative"},"y":{"field":"lo","type":"quantitative"},"y2":{"field":"hi"}}},
   {"data":{"name":"d"},"mark":{"type":"tick","orient":"horizontal","color":"#000","size":9,"thickness":1},
    "encoding":{"x":{"field":"conc","type":"quantitative"},"y":{"field":"lo","type":"quantitative"}}},
   {"data":{"name":"d"},"mark":{"type":"tick","orient":"horizontal","color":"#000","size":9,"thickness":1},
    "encoding":{"x":{"field":"conc","type":"quantitative"},"y":{"field":"hi","type":"quantitative"}}},
   {"data":{"name":"d"},"mark":{"type":"point","shape":"diamond","filled":true,"color":"#000","size":190,"opacity":1},
    "encoding":{"x":{"field":"conc","type":"quantitative"},"y":{"field":"v","type":"quantitative"}}},
   {"data":{"values":[{"x":170.7,"y":10.0,"t":"R² =0.97"}]},
    "mark":{"type":"text","fontSize":36,"align":"left","baseline":"alphabetic","color":"#000"},
    "encoding":{"x":{"field":"x","type":"quantitative"},"y":{"field":"y","type":"quantitative"},"text":{"field":"t"}}},
   {"data":{"values":[{"x":10.7,"y":11.79,"t":"(d)"}]},
    "mark":{"type":"text","font":"Lato","fontWeight":"bold","fontSize":28,"color":"#00B0F0"},
    "encoding":{"x":{"field":"x","type":"quantitative"},"y":{"field":"y","type":"quantitative"},"text":{"field":"t"}}}
  ]
 },
 {
  "width":427,"height":348.3,
  "layer":[
   {"data":{"name":"e"},
    "mark":{"type":"bar","stroke":"#000","strokeWidth":1},
    "encoding":{
     "x":{"field":"name","type":"nominal","sort":null,"scale":{"domain":["Acetaminophen 800 nM","Glycine 2mM","L-Cystine 20mM","Glutamic acid 20mM","Alanine 20mM","Glucose 10mM","Citric acid 10mM","Ascorbic acid 10mM","Mixed sample + 800 nM Acetaminophen"],"paddingInner":0.2,"paddingOuter":0.152},"axis":{"labels":false,"ticks":false,"title":"Interferents","titleY":44.4,"titleBaseline":"alphabetic"}},
     "y":{"field":"v","type":"quantitative","scale":{"domain":[0.52,14.6],"nice":false,"zero":false},"axis":{"values":[2,4,6,8,10,12,14],"labelFontSize":20,"title":"Δ Current (μA)","titleX":-47.6,"titleY":201,"titleAngle":-90,"titleAlign":"center","titleBaseline":"alphabetic"}},
     "y2":{"datum":0.52},
     "fill":{"field":"grp","type":"nominal","scale":{"domain":["Selectivity of BNPAu-Fe-rGO/GCE","Mixed"],"range":["#FF0000","#0000FF"]},
      "legend":{"values":["Selectivity of BNPAu-Fe-rGO/GCE"],"orient":"none","legendX":0,"legendY":10,"title":null,"symbolType":"M-1,-0.4H1V0.4H-1Z","symbolSize":1225,"symbolStrokeColor":"#000","symbolStrokeWidth":1,"labelFontSize":15,"labelFontWeight":"normal","labelOffset":6,"padding":4,"strokeColor":"#000","fillColor":"#fff","labelLimit":400}}
    }},
   {"data":{"name":"e"},"mark":{"type":"rule","color":"#000","strokeWidth":1},
    "encoding":{"x":{"field":"name","type":"nominal","sort":null},"y":{"field":"lo","type":"quantitative"},"y2":{"field":"hi"}}},
   {"data":{"name":"e"},"mark":{"type":"tick","orient":"horizontal","color":"#000","size":10,"thickness":1.2},
    "encoding":{"x":{"field":"name","type":"nominal","sort":null},"y":{"field":"lo","type":"quantitative"}}},
   {"data":{"name":"e"},"mark":{"type":"tick","orient":"horizontal","color":"#000","size":10,"thickness":1.2},
    "encoding":{"x":{"field":"name","type":"nominal","sort":null},"y":{"field":"hi","type":"quantitative"}}},
   {"data":{"name":"e"},
    "mark":{"type":"text","angle":270,"align":"left","baseline":"middle","fontWeight":"bold"},
    "encoding":{"x":{"field":"name","type":"nominal","sort":null},"y":{"datum":1.83},"text":{"field":"name"},
     "color":{"condition":{"test":"datum.grp==='Mixed'","value":"#FFFFFF"},"value":"#000000"},
     "size":{"condition":{"test":"datum.grp==='Mixed'","value":11.5},"value":15}}},
   {"data":{"values":[{"name":"L-Cystine 20mM","y":11.47,"t":"(e)"}]},
    "mark":{"type":"text","font":"Lato","fontWeight":"bold","fontSize":28,"color":"#00B0F0"},
    "encoding":{"x":{"field":"name","type":"nominal","sort":null,"bandPosition":0},"y":{"field":"y","type":"quantitative"},"text":{"field":"t"}}}
  ]
 },
 {
  "width":429,"height":345,
  "layer":[
   {"data":{"name":"f"},
    "mark":{"type":"bar"},
    "encoding":{
     "x":{"field":"conc","type":"ordinal","sort":null,"scale":{"domain":["50","100","200","400","600","800"],"paddingInner":0.19,"paddingOuter":0.15},"axis":{"labelAngle":0,"labelPadding":5,"title":"Acetaminophen (nM)","titleY":61.6,"titleBaseline":"alphabetic"}},
     "xOffset":{"field":"sample","type":"nominal","scale":{"domain":["Buffer","Urine"],"paddingInner":0,"paddingOuter":0}},
     "y":{"field":"v","type":"quantitative","scale":{"domain":[0,16],"nice":false},"axis":{"values":[0,2,4,6,8,10,12,14,16],"title":"Peak Currents (μA)","titleX":-48,"titleY":193.3,"titleAngle":-90,"titleAlign":"center","titleBaseline":"alphabetic"}},
     "color":{"field":"series","type":"nominal","scale":{"domain":["Current in standard condition","Recovered current in real sample"],"range":["#008000","#0000FF"]},
      "legend":{"orient":"none","legendX":6,"legendY":1,"title":null,"symbolType":"M-1,-0.4H1V0.4H-1Z","symbolSize":784,"symbolStrokeWidth":0,"labelFontSize":17,"labelFontWeight":"normal","clipHeight":17,"rowPadding":6,"labelOffset":6,"padding":4,"strokeColor":"#333","fillColor":"#fff","labelLimit":400}}
    }},
   {"data":{"name":"f"},"mark":{"type":"rule","strokeWidth":1.3},
    "encoding":{"x":{"field":"conc","type":"ordinal","sort":null},"xOffset":{"field":"sample","type":"nominal"},"y":{"field":"v","type":"quantitative"},"y2":{"field":"hi"},"color":{"field":"series","type":"nominal","legend":null}}},
   {"data":{"name":"f"},"mark":{"type":"tick","orient":"horizontal","size":9,"thickness":1.3},
    "encoding":{"x":{"field":"conc","type":"ordinal","sort":null},"xOffset":{"field":"sample","type":"nominal"},"y":{"field":"hi","type":"quantitative"},"color":{"field":"series","type":"nominal","legend":null}}},
   {"data":{"name":"f"},"mark":{"type":"text","angle":270,"align":"left","baseline":"middle","dx":20,"fontSize":15,"color":"#FFFFFF"},
    "encoding":{"x":{"field":"conc","type":"ordinal","sort":null},"xOffset":{"field":"sample","type":"nominal"},"y":{"datum":0},"text":{"field":"sample"}}},
   {"data":{"name":"f"},"transform":[{"filter":"datum.pct"}],
    "mark":{"type":"text","angle":270,"align":"left","baseline":"middle","dx":7,"fontSize":21,"fontWeight":"bold","color":"#000"},
    "encoding":{"x":{"field":"conc","type":"ordinal","sort":null},"xOffset":{"field":"sample","type":"nominal"},"y":{"field":"hi","type":"quantitative"},"text":{"field":"pct"}}},
   {"data":{"values":[{"conc":"50","y":12.56,"t":"(f)"}]},
    "mark":{"type":"text","font":"Lato","fontWeight":"bold","fontSize":28,"color":"#00B0F0"},
    "encoding":{"x":{"field":"conc","type":"ordinal","sort":null,"bandPosition":0.38},"y":{"field":"y","type":"quantitative"},"text":{"field":"t"}}}
  ]
 }
]
}
